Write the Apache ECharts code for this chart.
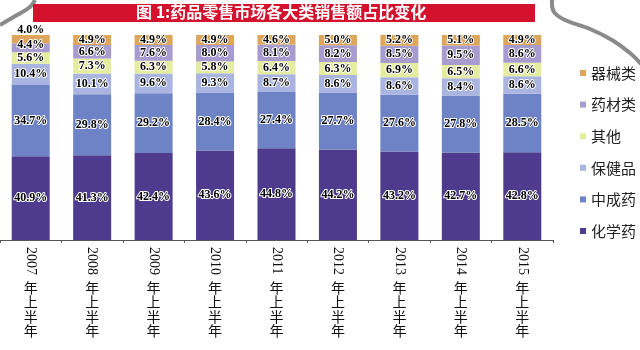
<!DOCTYPE html>
<html>
<head>
<meta charset="utf-8">
<script src="https://cdn.jsdelivr.net/npm/echarts@6/dist/echarts.min.js"></script>
<style>
  html, body { margin: 0; padding: 0; background: #fff; }
  #chart { width: 640px; height: 350px; }
</style>
</head>
<body>
<div id="chart"></div>
<script>
// Period labels: year + "年上半年"
const categories = ['2007年上半年', '2008年上半年', '2009年上半年', '2010年上半年', '2011年上半年',
                    '2012年上半年', '2013年上半年', '2014年上半年', '2015年上半年'];

// Share of retail drug sales by category (%)
const chemicalDrugs = [40.9, 41.3, 42.4, 43.6, 44.8, 44.2, 43.2, 42.7, 42.8]; // 化学药
const patentChinese = [34.7, 29.8, 29.2, 28.4, 27.4, 27.7, 27.6, 27.8, 28.5]; // 中成药
const healthProducts = [10.4, 10.1, 9.6, 9.3, 8.7, 8.6, 8.6, 8.4, 8.6];      // 保健品
const others = [5.6, 7.3, 6.3, 5.8, 6.4, 6.3, 6.9, 6.5, 6.6];                // 其他
const herbs = [4.4, 6.6, 7.6, 8.0, 8.1, 8.2, 8.5, 9.5, 8.6];                 // 药材类
const devices = [4.0, 4.9, 4.9, 4.9, 4.6, 5.0, 5.2, 5.1, 4.9];               // 器械类

const seriesDefs = [
  { name: '化学药', data: chemicalDrugs, color: '#4e3b8e' },
  { name: '中成药', data: patentChinese, color: '#6e83c6' },
  { name: '保健品', data: healthProducts, color: '#a9b4e0' },
  { name: '其他', data: others, color: '#e4ed9f' },
  { name: '药材类', data: herbs, color: '#a69ccf' },
  { name: '器械类', data: devices, color: '#dea65a' }
];

// small upward nudges so the crowded top labels of the first column don't collide
const labelNudge = { '器械类': { 0: -9 }, '药材类': { 0: -3 } };

const chart = echarts.init(document.getElementById('chart'), null, { renderer: 'canvas' });

const series = seriesDefs.map(s => ({
  name: s.name,
  type: 'bar',
  stack: 'share',
  barWidth: 38,
  itemStyle: { color: s.color },
  label: {
    show: true,
    position: 'inside',
    formatter: p => p.value.toFixed(1) + '%',
    fontFamily: 'Liberation Serif',
    fontWeight: 'bold',
    fontSize: 12,
    color: '#000',
    textBorderColor: '#fff',
    textBorderWidth: 2
  },
  data: s.data.map((v, i) => {
    const dy = labelNudge[s.name] && labelNudge[s.name][i];
    return dy ? { value: v, label: { offset: [0, dy] } } : v;
  })
}));

chart.setOption({
  backgroundColor: '#fff',
  animation: false,
  grid: { left: -5, right: 87, top: 35, bottom: 110 },
  legend: {
    orient: 'vertical',
    left: 575,
    top: 60,
    data: ['器械类', '药材类', '其他', '保健品', '中成药', '化学药'],
    icon: 'rect',
    itemWidth: 6,
    itemHeight: 6,
    itemGap: 15.6,
    textStyle: {
      fontFamily: 'Noto Sans CJK SC',
      fontSize: 15,
      lineHeight: 16,
      color: '#222'
    }
  },
  xAxis: [
    {
      type: 'category',
      data: categories,
      position: 'bottom',
      axisLine: { lineStyle: { color: '#555', width: 1 } },
      axisTick: { show: true, length: 3, lineStyle: { color: '#555' } },
      axisLabel: {
        rotate: -90,
        margin: 7,
        formatter: v => v.slice(0, 4),
        fontFamily: 'Liberation Serif',
        fontSize: 14,
        color: '#111'
      }
    },
    {
      type: 'category',
      data: categories,
      position: 'bottom',
      axisLine: { show: false },
      axisTick: { show: false },
      axisLabel: {
        margin: 40,
        formatter: v => v.slice(4).split('').join('\n'),
        fontFamily: 'Noto Sans CJK SC',
        fontSize: 14,
        lineHeight: 14.5,
        color: '#111'
      }
    }
  ],
  yAxis: { type: 'value', min: 0, max: 100, show: false },
  series: series,
  graphic: [
    // speech-bubble outline pieces in the corners
    {
      type: 'polyline', silent: true,
      shape: { points: [[0, 25], [17, 15], [30, 7], [35, 0]], smooth: 0.4 },
      style: { stroke: '#8a8a8a', lineWidth: 4, fill: null }
    },
    {
      type: 'polyline', silent: true,
      shape: { points: [[552, 0], [554, 12], [565, 20], [590, 29], [612, 40], [630, 53], [641, 64]], smooth: 0.4 },
      style: { stroke: '#8a8a8a', lineWidth: 4, fill: null }
    },
    // title banner
    {
      type: 'rect', silent: true,
      shape: { x: 33, y: 4, width: 502, height: 18 },
      style: { fill: '#d4122e' }
    },
    {
      type: 'text', silent: true,
      left: 284 - 148, top: 4,
      style: {
        text: '图 1:药品零售市场各大类销售额占比变化',
        fill: '#fff',
        font: 'bold 16px "Noto Sans CJK SC"',
        textVerticalAlign: 'top'
      }
    }
  ]
});
</script>
</body>
</html>
